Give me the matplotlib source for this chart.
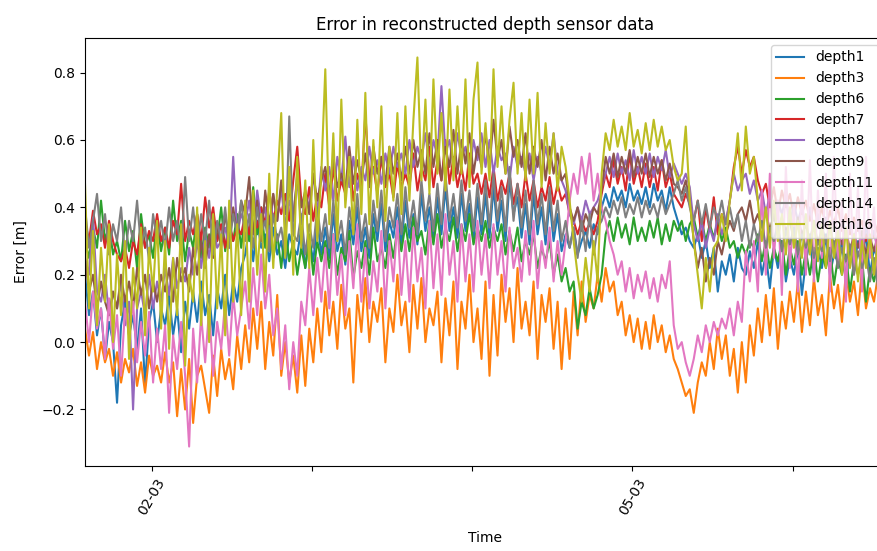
import numpy as np
import matplotlib
matplotlib.use('Agg')
import matplotlib.pyplot as plt

# sample times: one reading every 36 minutes
start_time = np.datetime64('2021-03-01T14:00')
step = np.timedelta64(36, 'm')

depth1 = [0.20, 0.08, 0.15, 0.02, 0.10, -0.05, 0.06, 0.00, -0.18, 0.05, 0.12, 0.02, 0.08, -0.02, 0.10, -0.13, 0.06, 0.12, 0.00, 0.10,
          0.05, 0.14, 0.02, 0.10, -0.03, 0.12, 0.04, 0.15, 0.06, 0.18, 0.08, 0.14, 0.02, 0.16, 0.10, 0.20, 0.08, 0.18, 0.12, 0.22,
          0.26, 0.34, 0.24, 0.36, 0.28, 0.32, 0.24, 0.34, 0.26, 0.30, 0.22, 0.32, 0.28, 0.26, 0.34, 0.22, 0.31, 0.24, 0.36, 0.26,
          0.34, 0.25, 0.38, 0.27, 0.32, 0.23, 0.36, 0.29, 0.40, 0.27, 0.34, 0.25, 0.38, 0.30, 0.41, 0.27, 0.36, 0.31, 0.40, 0.29,
          0.42, 0.31, 0.38, 0.29, 0.44, 0.33, 0.40, 0.30, 0.43, 0.32, 0.46, 0.33, 0.40, 0.31, 0.44, 0.33, 0.41, 0.30, 0.43, 0.32,
          0.44, 0.31, 0.46, 0.33, 0.42, 0.30, 0.48, 0.38, 0.43, 0.31, 0.41, 0.29, 0.44, 0.32, 0.40, 0.29, 0.42, 0.30, 0.38, 0.27,
          0.32, 0.28, 0.34, 0.26, 0.30, 0.33, 0.28, 0.35, 0.32, 0.40, 0.44, 0.40, 0.46, 0.42, 0.45, 0.40, 0.47, 0.42, 0.45, 0.41,
          0.46, 0.40, 0.47, 0.42, 0.45, 0.39, 0.46, 0.40, 0.36, 0.32, 0.34, 0.30, 0.28, 0.32, 0.25, 0.30, 0.22, 0.28, 0.15, 0.24,
          0.20, 0.26, 0.18, 0.28, 0.22, 0.20, 0.27, 0.22, 0.30, 0.20, 0.26, 0.16, 0.28, 0.22, 0.30, 0.18, 0.25, 0.20, 0.28, 0.14,
          0.24, 0.30, 0.20, 0.28, 0.22, 0.32, 0.20, 0.26, 0.24, 0.30, 0.18, 0.28, 0.22, 0.30, 0.25, 0.32, 0.20, 0.28, 0.24, 0.30,
          0.26]
depth3 = [0.04, -0.04, 0.03, -0.08, 0.00, -0.06, -0.02, -0.10, -0.03, -0.12, -0.05, -0.09, -0.02, -0.13, -0.06, -0.15, -0.04, -0.10, -0.07, -0.12,
          -0.03, -0.12, -0.06, -0.22, -0.08, -0.20, -0.05, -0.24, -0.10, -0.07, -0.14, -0.21, -0.04, -0.16, -0.02, -0.11, -0.05, -0.14, 0.02, -0.08,
          0.05, -0.06, 0.10, -0.02, 0.12, -0.08, 0.06, -0.04, 0.14, -0.10, 0.00, -0.12, -0.04, -0.15, 0.02, -0.13, 0.04, -0.06, 0.10, -0.03,
          0.15, 0.02, 0.12, -0.02, 0.17, 0.04, 0.10, -0.12, 0.14, 0.03, 0.19, 0.00, 0.12, 0.06, 0.16, -0.06, 0.10, 0.03, 0.20, 0.05,
          0.12, -0.03, 0.17, 0.04, 0.19, 0.00, 0.10, 0.05, 0.15, -0.06, 0.13, 0.02, 0.18, -0.08, 0.12, 0.04, 0.20, 0.00, 0.10, -0.05,
          0.18, -0.10, 0.14, -0.04, 0.20, 0.06, 0.16, 0.00, 0.22, 0.04, 0.12, 0.02, 0.18, -0.05, 0.14, 0.06, 0.16, -0.02, 0.12, -0.08,
          0.10, -0.05, 0.15, 0.02, 0.18, 0.06, 0.14, 0.10, 0.20, 0.12, 0.22, 0.15, 0.18, 0.08, 0.12, 0.02, 0.08, 0.00, 0.07, -0.02,
          0.06, -0.02, 0.08, 0.00, 0.05, -0.03, 0.02, -0.05, -0.08, -0.12, -0.16, -0.14, -0.21, -0.12, -0.06, -0.10, 0.00, -0.08, 0.04, -0.05,
          0.02, -0.10, -0.02, -0.15, 0.00, -0.12, 0.05, -0.04, 0.10, 0.00, 0.14, 0.02, 0.16, -0.02, 0.12, 0.04, 0.15, 0.06, 0.18, 0.03,
          0.15, 0.05, 0.19, 0.08, 0.14, 0.02, 0.20, 0.10, 0.17, 0.06, 0.21, 0.12, 0.18, 0.08, 0.22, 0.10, 0.16, 0.12, 0.20, 0.14,
          0.18]
depth6 = [0.30, 0.25, 0.34, 0.28, 0.42, 0.30, 0.35, 0.26, 0.30, 0.24, 0.36, 0.27, 0.33, 0.22, 0.38, 0.28, 0.32, 0.25, 0.36, 0.27,
          0.34, 0.26, 0.42, 0.30, 0.36, 0.24, 0.33, 0.28, 0.38, 0.25, 0.34, 0.28, 0.36, 0.30, 0.40, 0.27, 0.35, 0.30, 0.38, 0.28,
          0.38, 0.30, 0.46, 0.32, 0.40, 0.28, 0.36, 0.25, 0.32, 0.22, 0.34, 0.24, 0.30, 0.20, 0.28, 0.22, 0.32, 0.20, 0.30, 0.24,
          0.30, 0.22, 0.32, 0.20, 0.28, 0.24, 0.33, 0.19, 0.27, 0.22, 0.30, 0.20, 0.34, 0.24, 0.28, 0.22, 0.32, 0.25, 0.34, 0.27,
          0.35, 0.27, 0.37, 0.30, 0.33, 0.26, 0.36, 0.29, 0.38, 0.28, 0.34, 0.30, 0.37, 0.27, 0.35, 0.30, 0.38, 0.29, 0.34, 0.30,
          0.36, 0.28, 0.34, 0.30, 0.35, 0.26, 0.33, 0.27, 0.34, 0.24, 0.30, 0.26, 0.32, 0.22, 0.28, 0.24, 0.30, 0.20, 0.26, 0.18,
          0.22, 0.15, 0.18, 0.04, 0.12, 0.08, 0.16, 0.10, 0.14, 0.20, 0.32, 0.36, 0.30, 0.37, 0.31, 0.35, 0.29, 0.37, 0.30, 0.34,
          0.30, 0.36, 0.31, 0.37, 0.29, 0.35, 0.30, 0.36, 0.33, 0.36, 0.30, 0.35, 0.37, 0.31, 0.36, 0.30, 0.35, 0.31, 0.36, 0.30,
          0.34, 0.28, 0.30, 0.25, 0.29, 0.26, 0.30, 0.28, 0.32, 0.24, 0.30, 0.22, 0.28, 0.24, 0.30, 0.20, 0.28, 0.23, 0.30, 0.20,
          0.27, 0.20, 0.28, 0.18, 0.26, 0.22, 0.28, 0.17, 0.25, 0.20, 0.26, 0.15, 0.24, 0.20, 0.25, 0.12, 0.22, 0.18, 0.24, 0.14,
          0.20]
depth7 = [0.36, 0.30, 0.39, 0.32, 0.35, 0.28, 0.36, 0.30, 0.26, 0.24, 0.28, 0.22, 0.30, 0.26, 0.35, 0.28, 0.33, 0.30, 0.38, 0.30,
          0.34, 0.28, 0.36, 0.32, 0.47, 0.30, 0.36, 0.32, 0.38, 0.30, 0.43, 0.34, 0.40, 0.30, 0.35, 0.28, 0.36, 0.30, 0.34, 0.32,
          0.38, 0.32, 0.42, 0.34, 0.40, 0.35, 0.45, 0.36, 0.42, 0.38, 0.44, 0.36, 0.48, 0.58, 0.42, 0.38, 0.46, 0.36, 0.44, 0.40,
          0.50, 0.40, 0.52, 0.42, 0.48, 0.44, 0.55, 0.42, 0.50, 0.45, 0.68, 0.48, 0.52, 0.44, 0.55, 0.46, 0.50, 0.43, 0.53, 0.46,
          0.50, 0.46, 0.56, 0.45, 0.52, 0.48, 0.58, 0.46, 0.54, 0.48, 0.60, 0.47, 0.55, 0.46, 0.52, 0.45, 0.56, 0.47, 0.50, 0.44,
          0.50, 0.43, 0.52, 0.42, 0.48, 0.44, 0.50, 0.41, 0.47, 0.40, 0.50, 0.42, 0.48, 0.40, 0.46, 0.42, 0.49, 0.41, 0.47, 0.42,
          0.44, 0.38, 0.36, 0.32, 0.36, 0.33, 0.35, 0.32, 0.36, 0.44, 0.50, 0.46, 0.54, 0.47, 0.52, 0.45, 0.56, 0.47, 0.52, 0.46,
          0.53, 0.46, 0.52, 0.45, 0.54, 0.46, 0.50, 0.44, 0.42, 0.40, 0.44, 0.41, 0.36, 0.42, 0.30, 0.40, 0.33, 0.43, 0.32, 0.38,
          0.35, 0.42, 0.52, 0.58, 0.50, 0.57, 0.52, 0.55, 0.48, 0.44, 0.47, 0.40, 0.46, 0.38, 0.45, 0.40, 0.44, 0.37, 0.43, 0.38,
          0.42, 0.36, 0.41, 0.35, 0.40, 0.34, 0.39, 0.35, 0.40, 0.33, 0.38, 0.32, 0.37, 0.33, 0.36, 0.30, 0.36, 0.31, 0.35, 0.30,
          0.33]
depth8 = [0.25, 0.20, 0.37, 0.15, 0.12, 0.20, 0.08, 0.15, 0.10, 0.18, 0.05, 0.12, -0.20, 0.10, 0.15, 0.08, 0.20, 0.10, 0.18, 0.12,
          0.22, 0.14, 0.25, 0.16, 0.22, 0.18, 0.28, 0.20, 0.30, 0.22, 0.32, 0.25, 0.35, 0.28, 0.30, 0.34, 0.28, 0.55, 0.32, 0.38,
          0.35, 0.42, 0.32, 0.45, 0.36, 0.40, 0.30, 0.44, 0.36, 0.46, 0.34, 0.42, 0.38, 0.48, 0.35, 0.44, 0.40, 0.50, 0.38, 0.52,
          0.45, 0.52, 0.42, 0.55, 0.48, 0.61, 0.46, 0.55, 0.45, 0.52, 0.48, 0.58, 0.50, 0.54, 0.47, 0.56, 0.50, 0.58, 0.52, 0.56,
          0.50, 0.60, 0.52, 0.58, 0.54, 0.62, 0.52, 0.60, 0.55, 0.76, 0.56, 0.60, 0.52, 0.62, 0.55, 0.58, 0.50, 0.60, 0.54, 0.62,
          0.52, 0.60, 0.50, 0.58, 0.54, 0.56, 0.48, 0.58, 0.52, 0.55, 0.50, 0.56, 0.48, 0.55, 0.50, 0.58, 0.52, 0.62, 0.50, 0.48,
          0.45, 0.38, 0.35, 0.40, 0.36, 0.42, 0.38, 0.40, 0.42, 0.46, 0.50, 0.55, 0.49, 0.56, 0.50, 0.54, 0.48, 0.57, 0.50, 0.55,
          0.50, 0.56, 0.49, 0.55, 0.51, 0.57, 0.49, 0.53, 0.50, 0.47, 0.50, 0.46, 0.35, 0.30, 0.36, 0.28, 0.34, 0.30, 0.38, 0.32,
          0.36, 0.42, 0.50, 0.45, 0.48, 0.50, 0.44, 0.48, 0.42, 0.45, 0.38, 0.44, 0.36, 0.42, 0.38, 0.43, 0.35, 0.41, 0.36, 0.40,
          0.34, 0.40, 0.33, 0.38, 0.32, 0.37, 0.34, 0.36, 0.30, 0.37, 0.32, 0.35, 0.30, 0.36, 0.28, 0.34, 0.30, 0.33, 0.27, 0.32,
          0.30]
depth9 = [0.25, 0.15, 0.20, 0.10, 0.18, 0.12, 0.08, 0.15, 0.10, 0.20, 0.12, 0.18, 0.10, 0.22, 0.14, 0.20, 0.10, 0.18, 0.12, 0.20,
          0.15, 0.22, 0.12, 0.25, 0.18, 0.22, 0.15, 0.28, 0.20, 0.30, 0.22, 0.32, 0.25, 0.35, 0.28, 0.38, 0.30, 0.40, 0.32, 0.42,
          0.38, 0.49, 0.32, 0.42, 0.30, 0.45, 0.35, 0.44, 0.36, 0.48, 0.38, 0.46, 0.36, 0.50, 0.40, 0.45, 0.38, 0.50, 0.42, 0.48,
          0.52, 0.44, 0.55, 0.46, 0.50, 0.45, 0.58, 0.47, 0.54, 0.48, 0.56, 0.46, 0.58, 0.50, 0.55, 0.47, 0.58, 0.50, 0.56, 0.48,
          0.58, 0.50, 0.60, 0.52, 0.57, 0.50, 0.62, 0.52, 0.60, 0.48, 0.58, 0.52, 0.63, 0.50, 0.60, 0.53, 0.62, 0.50, 0.58, 0.52,
          0.62, 0.52, 0.66, 0.54, 0.60, 0.50, 0.64, 0.55, 0.60, 0.52, 0.62, 0.50, 0.58, 0.52, 0.60, 0.48, 0.58, 0.50, 0.56, 0.48,
          0.50, 0.40, 0.36, 0.40, 0.33, 0.38, 0.35, 0.40, 0.38, 0.45, 0.55, 0.50, 0.56, 0.49, 0.55, 0.50, 0.57, 0.49, 0.55, 0.50,
          0.56, 0.49, 0.55, 0.50, 0.54, 0.48, 0.53, 0.47, 0.46, 0.44, 0.48, 0.42, 0.30, 0.22, 0.28, 0.18, 0.25, 0.20, 0.30, 0.26,
          0.32, 0.36, 0.33, 0.38, 0.40, 0.36, 0.42, 0.35, 0.38, 0.34, 0.39, 0.33, 0.38, 0.32, 0.37, 0.33, 0.36, 0.30, 0.37, 0.32,
          0.35, 0.30, 0.36, 0.29, 0.34, 0.30, 0.35, 0.28, 0.33, 0.29, 0.34, 0.27, 0.32, 0.28, 0.33, 0.26, 0.31, 0.27, 0.32, 0.26,
          0.28]
depth11 = [0.12, 0.00, 0.15, 0.04, 0.10, -0.05, 0.13, -0.02, 0.08, -0.10, 0.10, 0.02, 0.12, -0.06, 0.06, -0.04, 0.09, -0.12, 0.04, -0.08,
           0.05, -0.21, 0.02, -0.08, 0.06, -0.10, -0.31, 0.04, -0.12, 0.08, -0.06, 0.10, -0.10, 0.06, -0.02, 0.12, -0.04, 0.14, 0.02, 0.10,
           0.18, 0.04, 0.22, 0.08, 0.26, 0.10, 0.20, 0.02, 0.10, -0.08, 0.05, -0.14, 0.00, -0.10, 0.12, 0.05, 0.22, 0.08, 0.25, 0.12,
           0.28, 0.10, 0.32, 0.14, 0.26, 0.08, 0.30, 0.16, 0.35, 0.12, 0.28, 0.10, 0.24, 0.15, 0.33, 0.10, 0.30, 0.18, 0.36, 0.14,
           0.30, 0.12, 0.34, 0.18, 0.28, 0.10, 0.36, 0.16, 0.32, 0.14, 0.38, 0.20, 0.30, 0.12, 0.35, 0.18, 0.32, 0.15, 0.36, 0.20,
           0.32, 0.16, 0.35, 0.20, 0.30, 0.15, 0.34, 0.22, 0.28, 0.18, 0.33, 0.20, 0.36, 0.16, 0.30, 0.22, 0.34, 0.18, 0.30, 0.20,
           0.30, 0.42, 0.50, 0.44, 0.55, 0.47, 0.56, 0.42, 0.50, 0.40, 0.36, 0.30, 0.26, 0.20, 0.24, 0.15, 0.22, 0.13, 0.20, 0.15,
           0.21, 0.13, 0.19, 0.12, 0.20, 0.16, 0.24, 0.05, -0.02, 0.00, -0.06, -0.10, -0.05, 0.02, -0.03, 0.05, 0.00, 0.06, 0.02, 0.07,
           0.04, 0.10, 0.02, 0.12, 0.06, 0.27, 0.18, 0.30, 0.15, 0.45, 0.20, 0.50, 0.25, 0.42, 0.14, 0.52, 0.22, 0.40, 0.15, 0.48,
           0.20, 0.54, 0.18, 0.45, 0.25, 0.50, 0.15, 0.55, 0.22, 0.42, 0.12, 0.50, 0.20, 0.46, 0.15, 0.55, 0.25, 0.40, 0.18, 0.48,
           0.30]
depth14 = [0.40, 0.28, 0.36, 0.44, 0.30, 0.38, 0.26, 0.35, 0.30, 0.40, 0.25, 0.36, 0.30, 0.42, 0.28, 0.34, 0.24, 0.38, 0.30, 0.36,
           0.28, 0.40, 0.30, 0.36, 0.26, 0.49, 0.30, 0.40, 0.28, 0.38, 0.30, 0.42, 0.26, 0.36, 0.30, 0.40, 0.28, 0.38, 0.32, 0.42,
           0.30, 0.38, 0.28, 0.40, 0.32, 0.36, 0.27, 0.38, 0.30, 0.34, 0.26, 0.67, 0.32, 0.30, 0.38, 0.26, 0.35, 0.28, 0.40, 0.30,
           0.38, 0.28, 0.42, 0.30, 0.36, 0.26, 0.40, 0.32, 0.44, 0.30, 0.38, 0.28, 0.42, 0.33, 0.45, 0.30, 0.40, 0.34, 0.44, 0.32,
           0.46, 0.34, 0.42, 0.32, 0.48, 0.36, 0.44, 0.33, 0.47, 0.35, 0.50, 0.36, 0.44, 0.34, 0.48, 0.36, 0.45, 0.33, 0.47, 0.35,
           0.48, 0.34, 0.50, 0.36, 0.46, 0.33, 0.52, 0.36, 0.47, 0.34, 0.45, 0.32, 0.48, 0.35, 0.44, 0.32, 0.46, 0.33, 0.42, 0.30,
           0.36, 0.28, 0.34, 0.25, 0.36, 0.27, 0.38, 0.26, 0.34, 0.36, 0.40, 0.37, 0.42, 0.38, 0.43, 0.37, 0.41, 0.38, 0.43, 0.37,
           0.42, 0.38, 0.41, 0.37, 0.43, 0.38, 0.41, 0.44, 0.48, 0.42, 0.46, 0.40, 0.36, 0.42, 0.35, 0.41, 0.34, 0.40, 0.36, 0.42,
           0.35, 0.40, 0.34, 0.38, 0.30, 0.36, 0.28, 0.35, 0.30, 0.36, 0.28, 0.34, 0.30, 0.35, 0.27, 0.33, 0.29, 0.34, 0.26, 0.32,
           0.28, 0.32, 0.25, 0.30, 0.27, 0.31, 0.24, 0.30, 0.22, 0.28, 0.24, 0.29, 0.20, 0.27, 0.22, 0.26, 0.18, 0.25, 0.16, 0.24,
           0.20]
depth16 = [0.47, 0.10, 0.33, 0.05, 0.28, 0.12, 0.35, 0.00, 0.26, 0.08, 0.30, -0.05, 0.22, 0.10, 0.34, 0.02, 0.28, 0.15, 0.36, 0.04,
           0.30, -0.02, 0.25, 0.08, 0.35, -0.07, 0.20, 0.12, 0.40, 0.05, 0.30, 0.00, 0.38, 0.10, 0.32, 0.02, 0.42, 0.12, 0.35, 0.08,
           0.42, 0.12, 0.45, 0.20, 0.38, 0.15, 0.50, 0.22, 0.46, 0.68, 0.25, 0.52, 0.20, 0.55, 0.28, 0.48, 0.22, 0.60, 0.30, 0.50,
           0.81, 0.35, 0.62, 0.30, 0.72, 0.40, 0.55, 0.32, 0.66, 0.38, 0.74, 0.35, 0.60, 0.40, 0.70, 0.36, 0.58, 0.42, 0.68, 0.38,
           0.70, 0.42, 0.66, 0.845, 0.48, 0.72, 0.44, 0.78, 0.50, 0.68, 0.45, 0.75, 0.48, 0.70, 0.50, 0.78, 0.46, 0.72, 0.83, 0.50,
           0.65, 0.48, 0.81, 0.52, 0.70, 0.50, 0.66, 0.77, 0.50, 0.68, 0.48, 0.72, 0.50, 0.74, 0.46, 0.65, 0.50, 0.62, 0.45, 0.58,
           0.52, 0.42, 0.30, 0.20, 0.12, 0.25, 0.15, 0.30, 0.18, 0.50, 0.62, 0.57, 0.66, 0.58, 0.64, 0.57, 0.68, 0.58, 0.63, 0.56,
           0.65, 0.57, 0.66, 0.58, 0.64, 0.57, 0.60, 0.52, 0.48, 0.50, 0.64, 0.42, 0.30, 0.20, 0.10, 0.25, 0.15, 0.28, 0.30, 0.38,
           0.30, 0.42, 0.50, 0.62, 0.45, 0.64, 0.50, 0.55, 0.42, 0.30, 0.40, 0.28, 0.42, 0.30, 0.38, 0.26, 0.40, 0.28, 0.36, 0.25,
           0.38, 0.26, 0.36, 0.24, 0.35, 0.22, 0.36, 0.25, 0.33, 0.20, 0.34, 0.22, 0.32, 0.18, 0.30, 0.22, 0.32, 0.20, 0.30, 0.18,
           0.24]

series_names = ['depth1', 'depth3', 'depth6', 'depth7', 'depth8',
                'depth9', 'depth11', 'depth14', 'depth16']
series_values = [depth1, depth3, depth6, depth7, depth8,
                 depth9, depth11, depth14, depth16]

tick_dates = np.array(['2021-03-02', '2021-03-03', '2021-03-04',
                       '2021-03-05', '2021-03-06'], dtype='datetime64[m]')
tick_labels = ['02-03', '', '', '05-03', '']


def error_plot():
    fig = plt.figure()
    fig.set_size_inches(8.78, 5.51)
    # axes run slightly past the right border, like the cropped original
    ax = fig.add_axes([85 / 878, 85 / 551, 801 / 878, 428 / 551])

    for name, vals in zip(series_names, series_values):
        times = start_time + step * np.arange(len(vals))
        ax.plot(times, vals, label=name, linewidth=1.5)

    ax.set_xlim(start_time, start_time + step * (len(depth1) - 1))
    ax.set_xticks(tick_dates)
    ax.set_xticklabels(tick_labels, rotation=60)
    ax.set_xlabel('Time', labelpad=10)
    ax.set_ylabel('Error [m]', labelpad=10)
    ax.set_title('Error in reconstructed depth sensor data')
    ax.legend(loc='upper right')

    plt.savefig('out.png', dpi=100)
    plt.close()


error_plot()
